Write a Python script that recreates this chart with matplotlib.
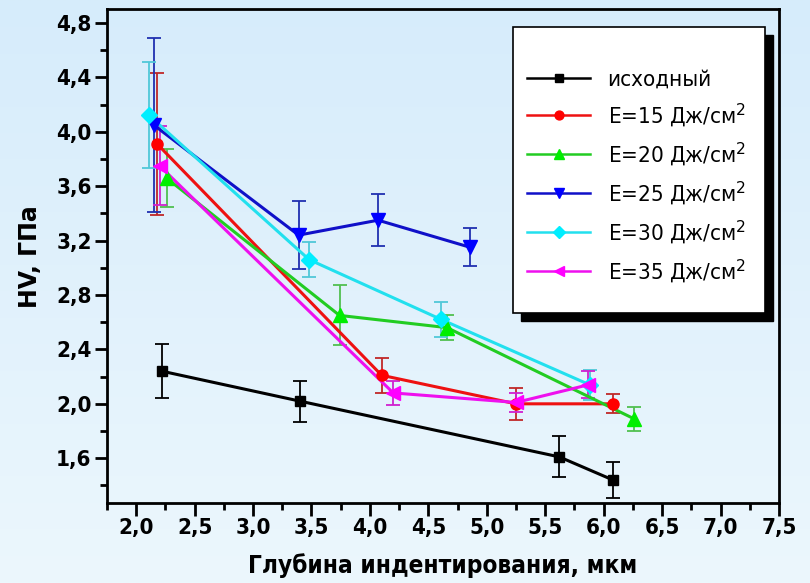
import numpy as np
import matplotlib
matplotlib.use("Agg")
import matplotlib.pyplot as plt
from matplotlib import font_manager
from matplotlib.font_manager import FontProperties
from matplotlib.patches import Rectangle
from matplotlib.ticker import MultipleLocator, FuncFormatter

# --- data ---
labels = ["исходный", "E=15 Дж/см$^2$", "E=20 Дж/см$^2$",
          "E=25 Дж/см$^2$", "E=30 Дж/см$^2$", "E=35 Дж/см$^2$"]

x0 = [2.22, 3.40, 5.62, 6.08]
y0 = [2.24, 2.02, 1.61, 1.44]
e0 = [0.20, 0.15, 0.15, 0.13]

x15 = [2.18, 4.10, 5.25, 6.08]
y15 = [3.91, 2.21, 2.00, 2.00]
e15 = [0.52, 0.13, 0.12, 0.07]

x20 = [2.26, 3.74, 4.66, 6.26]
y20 = [3.66, 2.65, 2.56, 1.89]
e20 = [0.21, 0.22, 0.09, 0.09]

x25 = [2.15, 3.39, 4.07, 4.86]
y25 = [4.05, 3.24, 3.35, 3.15]
e25 = [0.64, 0.25, 0.19, 0.14]

x30 = [2.11, 3.48, 4.61, 5.88]
y30 = [4.12, 3.06, 2.62, 2.14]
e30 = [0.39, 0.13, 0.13, 0.11]

x35 = [2.20, 4.20, 5.25, 5.87]
y35 = [3.75, 2.08, 2.01, 2.14]
e35 = [0.29, 0.09, 0.07, 0.10]

series = [(x0, y0, e0), (x15, y15, e15), (x20, y20, e20),
          (x25, y25, e25), (x30, y30, e30), (x35, y35, e35)]
line_colors = ["black", "#ee1111", "#22cc22", "#1010c8", "#22e0ee", "#ee10ee"]
marker_colors = ["black", "#ff0000", "#00ee00", "#0000ff", "#00eeff", "#ff00ff"]
err_colors = ["black", "#c02828", "#50c050", "#2030b0", "#50c8d8", "#d020d0"]
markers = ["s", "o", "^", "v", "D", "<"]
msizes = [7.5, 8, 9.5, 9.5, 8, 9.5]


# look for a narrow sans font (the original uses Arial Narrow)
def find_narrow(bold):
    for f in font_manager.fontManager.ttflist:
        nm = f.name.lower()
        if "serif" in nm or "mono" in nm:
            continue
        narrow = ("narrow" in nm or "condensed" in nm or
                  str(f.stretch) in ("condensed", "semi-condensed",
                                     "extra-condensed", "ultra-condensed"))
        if not narrow or f.style != "normal":
            continue
        w = f.weight if isinstance(f.weight, int) else (700 if "bold" in str(f.weight) else 400)
        if (w >= 600) == bold:
            return f.fname
    return None


nfile = find_narrow(False)
bfile = find_narrow(True)


def fprop(size, bold=False):
    fn = bfile if bold else nfile
    if fn:
        return FontProperties(fname=fn, size=size)
    return FontProperties(family="Liberation Sans", size=size * 0.9,
                          weight="bold" if bold else "normal")


fig = plt.figure(figsize=(8.1, 5.83), dpi=100)

# light blue gradient background
bg = fig.add_axes([0, 0, 1, 1], zorder=-10)
grad = np.linspace(0, 1, 256).reshape(-1, 1)
top = np.array([214, 236, 251]) / 255
bot = np.array([236, 247, 253]) / 255
img = top + grad[..., None] * (bot - top)
bg.imshow(img, aspect="auto", extent=[0, 1, 0, 1])
bg.axis("off")

ax = fig.add_axes([0.132, 0.137, 0.8297, 0.847])
ax.patch.set_alpha(0)

for (xs, ys, es), lc, mc, ec, m, ms in zip(series, line_colors, marker_colors,
                                           err_colors, markers, msizes):
    ax.errorbar(xs, ys, yerr=es, fmt="none", ecolor=ec, elinewidth=1.3,
                capsize=5, capthick=1.3, zorder=2)
    ax.plot(xs, ys, color=lc, lw=2.2, zorder=3)
    ax.plot(xs, ys, ls="none", marker=m, ms=ms, color=mc, mec=mc, zorder=4)

ax.set_xlim(1.75, 7.5)
ax.set_ylim(1.27, 4.9)
ax.xaxis.set_minor_locator(MultipleLocator(0.25))
ax.yaxis.set_minor_locator(MultipleLocator(0.2))
ax.set_xticks(np.arange(2.0, 7.51, 0.5))
ax.set_yticks(np.arange(1.6, 4.81, 0.4))
comma = FuncFormatter(lambda v, p: f"{v:.1f}".replace(".", ","))
ax.xaxis.set_major_formatter(comma)
ax.yaxis.set_major_formatter(comma)
ax.tick_params(which="major", direction="out", length=9, width=2, pad=2)
ax.tick_params(which="minor", direction="out", length=5, width=2)
for lab in ax.get_xticklabels() + ax.get_yticklabels():
    lab.set_fontproperties(fprop(16, bold=True))
for s in ax.spines.values():
    s.set_linewidth(2)

ax.set_xlabel("Глубина индентирования, мкм", fontproperties=fprop(17.5, bold=True),
              labelpad=11)
ax.set_ylabel("HV, ГПа", fontsize=17, fontweight="bold", labelpad=10)

# legend box with hard black shadow
bx0, by0, bw, bh = 0.604, 0.385, 0.375, 0.579
sh = Rectangle((bx0 + 0.012, by0 - 0.016), bw, bh, transform=ax.transAxes,
               facecolor="black", edgecolor="black", zorder=6)
box = Rectangle((bx0, by0), bw, bh, transform=ax.transAxes,
                facecolor="white", edgecolor="black", lw=1.2, zorder=7)
ax.add_patch(sh)
ax.add_patch(box)

handles = []
for lc, mc, m, ms in zip(line_colors, marker_colors, markers, msizes):
    h, = ax.plot([], [], color=lc, lw=1.8, marker=m, ms=ms * 0.8,
                 mfc=mc, mec=mc)
    handles.append(h)
leg = ax.legend(handles, labels, loc="upper left",
                bbox_to_anchor=(0.612, 0.895), borderaxespad=0,
                frameon=False, handlelength=2.85, handletextpad=0.77,
                labelspacing=0.5, numpoints=1, borderpad=0.4,
                prop=fprop(16))
leg.set_zorder(8)

fig.savefig("out.png", dpi=100)
